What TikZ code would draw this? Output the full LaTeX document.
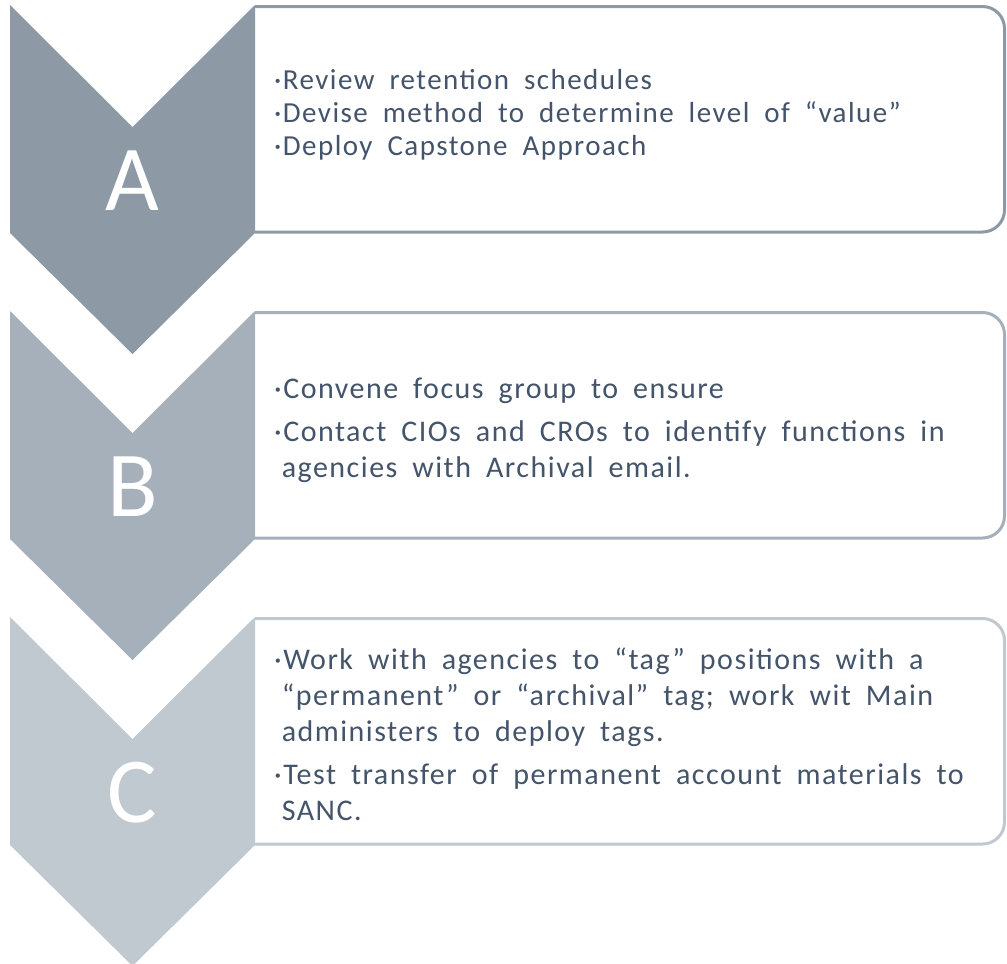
\documentclass[tikz,border=0pt]{standalone}
\usepackage{fontspec}
\setmainfont{Carlito}
\newfontfamily\bodyfont[LetterSpace=5]{Carlito}
\definecolor{cA}{HTML}{8D9AA5}
\definecolor{cB}{HTML}{A6B0BA}
\definecolor{cC}{HTML}{C0C9D0}
\definecolor{txt}{HTML}{44546A}
\tikzset{
  chevron/.style={fill=#1, draw=none},
  panel/.style={draw=#1, line width=3pt, rounded corners=22pt},
  letter/.style={text=white, font=\fontsize{93}{93}\selectfont, anchor=base, inner sep=0pt},
  body/.style={text=txt, anchor=base west, inner sep=0pt, font=\bodyfont\fontsize{30}{36}\selectfont},
  bodysmall/.style={body, font=\bodyfont\fontsize{29}{33}\selectfont},
}
\newcommand\mystage[3]{% #1 = top y, #2 = colour
  \draw[panel=#2] (255,{#1+1.5}) -- (1004.5,{#1+1.5}) -- (1004.5,{#1+227}) -- (255,{#1+227});
  \fill[chevron=#2] (10,#1) -- (132.5,{#1+122}) -- (255,#1) -- (255,{#1+228})
     -- (132.5,{#1+349}) -- (10,{#1+228}) -- cycle;
}
\begin{document}
\begin{tikzpicture}[x=1pt,y=-1pt]
\useasboundingbox (0,0) rectangle (1007,964);
\fill[white] (0,0) rectangle (1007,964);
% stage A
\mystage{5}{cA}{}
\node[letter] (lA) at (132.5,210.5) {A};
\node[bodysmall] (tA) at (274,89) {\parbox[t]{725pt}{\spaceskip=15pt plus 2pt minus 2pt\baselineskip=33pt
·Review retention schedules\\
·Devise method to determine level of “value”\\
·Deploy Capstone Approach}};
% stage B
\mystage{311}{cB}{}
\node[letter] (lB) at (132.5,516.5) {B};
\node[body] (tB) at (274,398) {\parbox[t]{725pt}{\spaceskip=15pt plus 2pt minus 2pt\baselineskip=36pt
·Convene focus group to ensure\\[7pt]
·Contact CIOs and CROs to identify functions in\\
\hphantom{·}agencies with Archival email.}};
% stage C
\mystage{617}{cC}{}
\node[letter] (lC) at (132.5,822.5) {C};
\node[body] (tC) at (274,669) {\parbox[t]{725pt}{\spaceskip=15pt plus 2pt minus 2pt\baselineskip=36pt
·Work with agencies to “tag” positions with a\\
\hphantom{·}“permanent” or “archival” tag; work wit Main\\
\hphantom{·}administers to deploy tags.\\[7pt]
·Test transfer of permanent account materials to\\
\hphantom{·}SANC.}};
\end{tikzpicture}
\end{document}
